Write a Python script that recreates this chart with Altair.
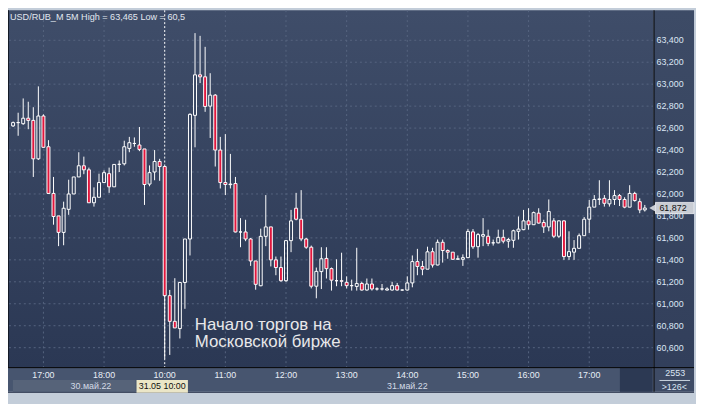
import altair as alt
import pandas as pd

# ---------------- data ----------------
opens = [62.62, 62.65, 62.64, 62.69, 62.67, 62.32, 62.71, 62.43, 62.005, 61.80,
         61.65, 61.86, 62.0, 62.155, 62.257, 62.22, 61.92, 61.97, 62.104, 62.185,
         62.065, 62.27, 62.275, 62.415, 62.46, 62.446, 62.41, 62.09, 62.20, 62.296,
         62.25, 61.074, 60.84, 60.774, 61.194, 61.59, 62.716, 63.085, 63.067, 62.80,
         62.90, 62.40, 62.104, 62.085, 62.095, 61.654, 61.654, 61.59, 61.39, 61.164,
         61.614, 61.70, 61.40, 61.33, 61.21, 61.575, 61.87, 61.77, 61.59, 61.515,
         61.16, 61.293, 61.413, 61.32, 61.21, 61.21, 61.195, 61.165, 61.158, 61.185,
         61.125, 61.18, 61.135, 61.135, 61.125, 61.125, 61.165, 61.125, 61.125, 61.19,
         61.384, 61.34, 61.315, 61.474, 61.353, 61.56, 61.485, 61.47, 61.405, 61.405,
         61.42, 61.655, 61.52, 61.615, 61.615, 61.555, 61.555, 61.605, 61.57, 61.578,
         61.66, 61.675, 61.755, 61.72, 61.825, 61.74, 61.70, 61.755, 61.615, 61.755,
         61.43, 61.47, 61.505, 61.62, 61.77, 61.88, 61.95, 61.96, 61.91, 61.95,
         61.985, 61.95, 61.88, 62.005, 61.93, 61.855]
highs = [62.66, 62.74, 62.87, 62.84, 62.79, 62.98, 62.725, 62.49, 62.155, 61.80,
         61.93, 62.13, 62.155, 62.38, 62.34, 62.24, 62.06, 62.185, 62.215, 62.24,
         62.27, 62.305, 62.485, 62.52, 62.515, 62.61, 62.41, 62.26, 62.40, 62.32,
         62.25, 61.126, 61.233, 61.20, 61.59, 62.735, 63.465, 63.44, 63.34, 63.10,
         62.91, 62.52, 62.545, 62.365, 62.155, 61.78, 61.765, 61.60, 61.39, 61.684,
         61.99, 61.70, 61.43, 61.43, 61.58, 61.855, 62.01, 62.035, 61.60, 61.53,
         61.33, 61.515, 61.515, 61.33, 61.405, 61.465, 61.25, 61.22, 61.51, 61.20,
         61.23, 61.23, 61.15, 61.18, 61.15, 61.20, 61.19, 61.13, 61.25, 61.44,
         61.50, 61.39, 61.52, 61.51, 61.585, 61.585, 61.495, 61.47, 61.44, 61.45,
         61.68, 61.68, 61.645, 61.78, 61.675, 61.585, 61.675, 61.675, 61.60, 61.675,
         61.795, 61.855, 61.87, 61.84, 61.87, 61.765, 61.95, 61.78, 61.76, 61.76,
         61.66, 61.58, 61.64, 61.79, 61.945, 61.99, 62.125, 61.99, 62.125, 62.035,
         62.0, 61.97, 62.08, 62.02, 61.96, 61.90]
lows = [62.61, 62.53, 62.63, 62.59, 62.155, 62.31, 62.42, 62.0, 61.72, 61.525,
        61.533, 61.81, 62.0, 62.155, 62.18, 61.92, 61.885, 61.97, 62.10, 62.01,
        62.065, 62.2, 62.26, 62.38, 62.43, 62.39, 61.90, 62.07, 62.125, 62.12,
        60.50, 60.534, 60.78, 60.684, 60.954, 61.44, 62.425, 63.01, 62.748, 62.51,
        62.25, 62.05, 61.99, 62.05, 61.65, 61.515, 61.57, 61.345, 61.128, 61.16,
        61.525, 61.34, 61.26, 61.20, 61.20, 61.47, 61.76, 61.57, 61.50, 61.14,
        61.05, 61.134, 61.23, 61.12, 61.16, 61.16, 61.14, 61.12, 61.12, 61.12,
        61.12, 61.12, 61.12, 61.12, 61.12, 61.12, 61.12, 61.12, 61.12, 61.15,
        61.26, 61.26, 61.315, 61.33, 61.35, 61.375, 61.41, 61.40, 61.40, 61.345,
        61.42, 61.50, 61.42, 61.525, 61.525, 61.53, 61.55, 61.55, 61.51, 61.51,
        61.585, 61.67, 61.675, 61.72, 61.73, 61.645, 61.66, 61.60, 61.60, 61.40,
        61.40, 61.40, 61.505, 61.62, 61.645, 61.88, 61.90, 61.885, 61.885, 61.90,
        61.89, 61.87, 61.88, 61.93, 61.825, 61.84]
closes = [62.65, 62.65, 62.69, 62.67, 62.32, 62.71, 62.425, 62.005, 61.795, 61.65,
          61.87, 62.0, 62.155, 62.257, 62.22, 61.92, 61.97, 62.104, 62.194, 62.065,
          62.269, 62.27, 62.43, 62.467, 62.46, 62.406, 62.086, 62.194, 62.296, 62.25,
          61.074, 60.84, 60.78, 61.194, 61.59, 62.725, 63.085, 63.067, 62.797, 62.90,
          62.40, 62.104, 62.086, 62.09, 61.654, 61.654, 61.59, 61.39, 61.177, 61.614,
          61.70, 61.40, 61.33, 61.21, 61.575, 61.755, 61.77, 61.59, 61.515, 61.16,
          61.295, 61.41, 61.32, 61.215, 61.21, 61.205, 61.165, 61.165, 61.185, 61.125,
          61.18, 61.135, 61.135, 61.135, 61.135, 61.165, 61.125, 61.125, 61.19, 61.384,
          61.34, 61.315, 61.473, 61.353, 61.56, 61.485, 61.47, 61.405, 61.41, 61.42,
          61.659, 61.519, 61.63, 61.63, 61.55, 61.555, 61.605, 61.57, 61.585, 61.665,
          61.68, 61.755, 61.72, 61.83, 61.735, 61.70, 61.84, 61.615, 61.755, 61.43,
          61.475, 61.505, 61.62, 61.77, 61.88, 61.95, 61.955, 61.915, 61.95, 61.985,
          61.95, 61.88, 62.005, 61.94, 61.855, 61.872]

tick_idx = [6, 18, 30, 42, 54, 66, 78, 90, 102, 114]
tick_labels = ["17:00", "18:00", "10:00", "11:00", "12:00", "13:00",
               "14:00", "15:00", "16:00", "17:00"]
grid_idx = [6, 18, 42, 54, 66, 78, 90, 102, 114]
price_ticks = [60.6, 60.8, 61.0, 61.2, 61.4, 61.6, 61.8, 62.0,
               62.2, 62.4, 62.6, 62.8, 63.0, 63.2, 63.4]
session_start = 30
date_labels = ["30.май.22", "31.май.22"]
date_pos = [15.4, 78]
last_price = 61.872
header = "USD/RUB_M 5M High = 63,465 Low = 60,5"
note = ["Начало торгов на", "Московской бирже"]
crosshair_label = "31.05 10:00"
bars_total = "2553"
bars_shown = ">126<"

candles = pd.DataFrame({"i": list(range(len(opens))), "o": opens,
                        "h": highs, "l": lows, "c": closes})

# ---------------- styling ----------------
W, H = 653, 361
FONT = "Liberation Sans"
RED = "#e1163d"
LIGHT = "#c3cdd9"
GRID = "#56647f"
xsc = alt.Scale(domain=[-0.03, 125.74], nice=False, zero=False)
ysc = alt.Scale(domain=[60.423, 63.673], nice=False, zero=False)
one = pd.DataFrame({"k": [0]})


def box(x1, x2, y1, y2, color):
    return alt.Chart(one).mark_rect(color=color).encode(
        x=alt.value(x1), x2=alt.value(x2), y=alt.value(y1), y2=alt.value(y2))


def hline(y, x1, x2, color, width=1):
    return alt.Chart(one).mark_rule(color=color, strokeWidth=width).encode(
        x=alt.value(x1), x2=alt.value(x2), y=alt.value(y))


def vline(x, y1, y2, color, width=1):
    return alt.Chart(one).mark_rule(color=color, strokeWidth=width).encode(
        x=alt.value(x), y=alt.value(y1), y2=alt.value(y2))


def label(txt, x, y, color, size=9, align="left", baseline="middle"):
    return alt.Chart(one).mark_text(text=txt, font=FONT, fontSize=size, color=color,
                                    align=align, baseline=baseline).encode(
        x=alt.value(x), y=alt.value(y))


plot_grad = alt.Gradient(gradient="linear",
                         stops=[alt.GradientStop(color="#3f4d69", offset=0),
                                alt.GradientStop(color="#2b3854", offset=1)],
                         x1=0, x2=0, y1=0, y2=1)
side_grad = alt.Gradient(gradient="linear",
                         stops=[alt.GradientStop(color="#3d4b66", offset=0),
                                alt.GradientStop(color="#323f5b", offset=1)],
                         x1=0, x2=0, y1=0, y2=1)

plot_bg = alt.Chart(one).mark_rect(color=plot_grad).encode(
    x=alt.value(0), x2=alt.value(W), y=alt.value(0), y2=alt.value(H))
right_panel = alt.Chart(one).mark_rect(color=side_grad).encode(
    x=alt.value(W), x2=alt.value(694), y=alt.value(0), y2=alt.value(H))
corner = box(W, 694, H, 386, "#3e4b65")
bottom_strip = box(0, W, H, 386, "#47556f")
date_band = box(5, 129, 374, 386, "#566379")
dark_box = box(619, 652, 362, 386, "#2c3953")

hgrid = alt.Chart(pd.DataFrame({"p": price_ticks})).mark_rule(
    color=GRID, strokeDash=[2, 3], strokeWidth=1).encode(
    y=alt.Y("p:Q", scale=ysc, axis=None))
vgrid = alt.Chart(pd.DataFrame({"t": grid_idx})).mark_rule(
    color=GRID, strokeDash=[2, 3], strokeWidth=1).encode(
    x=alt.X("t:Q", scale=xsc, axis=None))
separator = alt.Chart(pd.DataFrame({"t": [session_start]})).mark_rule(
    color="white", strokeDash=[2, 2], strokeWidth=1).encode(
    x=alt.X("t:Q", scale=xsc, axis=None))

wick_up = alt.Chart(candles).transform_calculate(
    top="max(datum.o, datum.c)").mark_rule(color="white", strokeWidth=1).encode(
    x=alt.X("i:Q", scale=xsc, axis=None),
    y=alt.Y("h:Q", scale=ysc, axis=None), y2="top:Q")
wick_dn = alt.Chart(candles).transform_calculate(
    bot="min(datum.o, datum.c)").mark_rule(color="white", strokeWidth=1).encode(
    x=alt.X("i:Q", scale=xsc, axis=None),
    y=alt.Y("bot:Q", scale=ysc, axis=None), y2="l:Q")

bodies = alt.Chart(candles).mark_bar(size=3, stroke="white", strokeWidth=1).encode(
    x=alt.X("i:Q", scale=xsc, axis=None),
    y=alt.Y("o:Q", scale=ysc, axis=None),
    y2="c:Q",
    fill=alt.condition("datum.c < datum.o", alt.value(RED), alt.value("transparent")),
)

# axis labels drawn as text marks through the scales
y_labels = alt.Chart(pd.DataFrame({"p": price_ticks})).transform_calculate(
    s="replace(format(datum.p, '.3f'), '.', ',')").mark_text(
    font=FONT, fontSize=9, color="#dce6f4", align="left", baseline="middle").encode(
    x=alt.value(W + 3), y=alt.Y("p:Q", scale=ysc, axis=None), text="s:N")
x_labels = alt.Chart(pd.DataFrame({"t": tick_idx, "lab": tick_labels})).mark_text(
    font=FONT, fontSize=9, color="#e8eef6", align="center", baseline="middle").encode(
    x=alt.X("t:Q", scale=xsc, axis=None), y=alt.value(369.5), text="lab:N")

borders = [
    vline(0.5, 0, H, "#141a26"),
    vline(W + 0.5, 0, 386, "#000000"),
    hline(H + 0.5, 0, 694, "#000000"),
    hline(386.5, 0, 694, "#27324a"),
]

header_txt = label(header, 2, 10, "#e2e8f0", size=9.2, baseline="alphabetic")
note_txt = alt.Chart(one).mark_text(text=note, font=FONT, fontSize=17, color="#e8e8ea",
                                    align="left", baseline="alphabetic",
                                    lineHeight=18).encode(
    x=alt.value(189), y=alt.value(323))

dates = alt.Chart(pd.DataFrame({"d": date_labels, "x": date_pos})).mark_text(
    font=FONT, fontSize=9, color="#d3dae6", baseline="middle").encode(
    x=alt.X("x:Q", scale=xsc, axis=None), y=alt.value(380.5), text="d:N")
cross_box = box(130, 182, 374, 387, "#ebe6c7")
cross_txt = label(crosshair_label, 156, 380.5, "#111111", size=9, align="center")

count_txt = label(bars_total, 675, 367, "#dce6f4", size=9, align="center")
count_line = hline(374.5, 659, 690, "#c9d3e0")
shown_txt = label(bars_shown, 674, 381, "#dce6f4", size=9, align="center")

tag_df = pd.DataFrame({"p": [last_price]})
tag_box = alt.Chart(tag_df).transform_calculate(
    p1="datum.p - 0.051", p2="datum.p + 0.051").mark_rect(
    color="#c9cdd4", stroke="#eef0f3", strokeWidth=0.8).encode(
    x=alt.value(655), x2=alt.value(694),
    y=alt.Y("p1:Q", scale=ysc, axis=None), y2="p2:Q")
tag_arrow = alt.Chart(tag_df).mark_point(shape="triangle-left", filled=True,
                                         size=55, color="#c9cdd4", opacity=1).encode(
    x=alt.value(652), y=alt.Y("p:Q", scale=ysc, axis=None))
tag_txt = alt.Chart(tag_df).transform_calculate(
    s="replace(format(datum.p, '.3f'), '.', ',')").mark_text(
    font=FONT, fontSize=9, color="#111111", align="left", baseline="middle").encode(
    x=alt.value(659), y=alt.Y("p:Q", scale=ysc, axis=None), text="s:N")

chart = alt.layer(
    plot_bg, right_panel, corner, bottom_strip, date_band, dark_box,
    hgrid, vgrid, separator, wick_up, wick_dn, bodies,
    *borders,
    y_labels, x_labels,
    header_txt, note_txt, dates, cross_box, cross_txt,
    count_txt, count_line, shown_txt,
    tag_arrow, tag_box, tag_txt,
).properties(
    width=W, height=H, background=LIGHT,
    padding={"left": 0, "top": 0, "right": 43, "bottom": 35},
    autosize=alt.AutoSizeParams(type="none"),
).configure_view(stroke=None)

chart.save("out.html", embed_options={"renderer": "svg", "actions": False})
